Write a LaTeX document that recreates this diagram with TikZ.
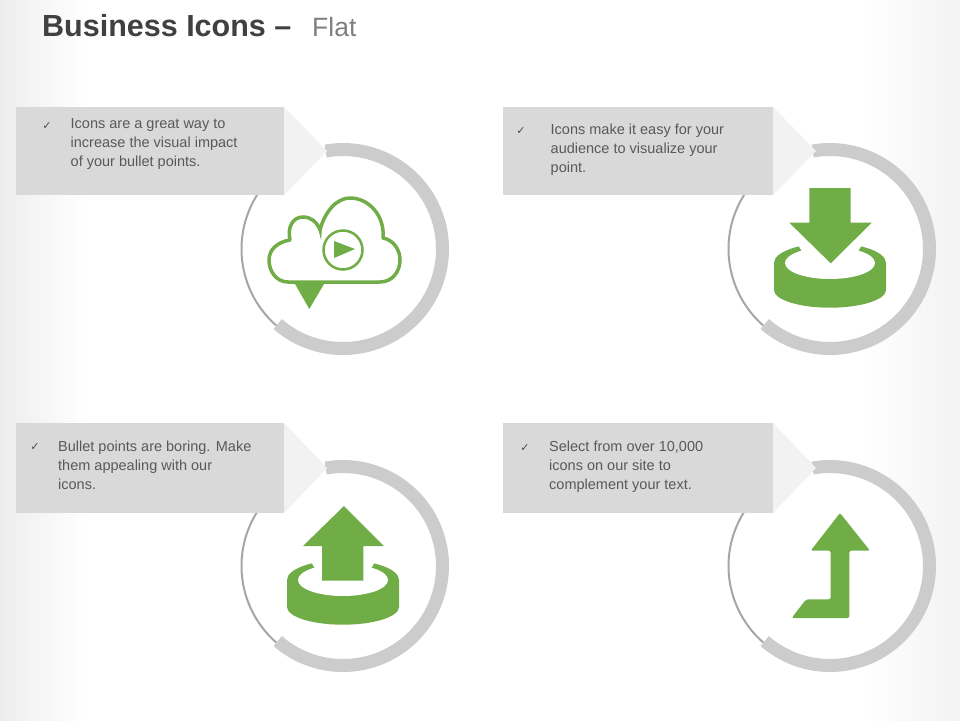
\documentclass[tikz,border=0pt]{standalone}
\usepackage{fontspec}
\setmainfont{Liberation Sans}
\newfontfamily\checkfont{DejaVu Sans}
\definecolor{iconGreen}{HTML}{70AD47}
\definecolor{ringGrey}{HTML}{CCCCCC}
\definecolor{thinGrey}{HTML}{A6A6A6}
\definecolor{boxGrey}{HTML}{D9D9D9}
\definecolor{tipGrey}{HTML}{F2F2F2}
\definecolor{textGrey}{HTML}{595959}
\tikzset{
    bodytext/.style={anchor=north west, inner sep=0pt, align=left, text=textGrey, font=\fontsize{14.5}{19}\selectfont},
    checkmark/.style={inner sep=0pt, text=black!70, font=\checkfont\fontsize{11}{11}\selectfont},
    icon/.style={fill=iconGreen, draw=none}
}
% ring under the two tray arrows
\newcommand{\trayring}{
    \fill[iconGreen] (-56,-14) arc[start angle=180, end angle=0, x radius=56, y radius=20] -- (56,-41) arc[start angle=0, end angle=-180, x radius=56, y radius=17.7] -- cycle;
    \fill[white] (0,-14) ellipse[x radius=45, y radius=16];
    \fill[white] (-35,9) -- (-27,-4) -- (27,-4) -- (35,9) -- cycle;
}
\begin{document}
\begin{tikzpicture}[x=1pt, y=1pt]
    \useasboundingbox (0,-720) rectangle (960,0);
    \fill[white] (0,-720) rectangle (960,0);
    \shade[left color=black!7, right color=white] (0,-720) rectangle (85,0);
    \shade[left color=white, right color=black!5] (860,-720) rectangle (960,0);

    \node[anchor=base west, inner sep=0pt, text=black!75, font=\fontsize{30.5}{30}\selectfont\bfseries] (title) at (42,-36) {Business Icons --};
    \node[anchor=base west, inner sep=0pt, text=black!50, font=\fontsize{26.5}{30}\selectfont] (subtitle) at (312,-36) {Flat};

    % circles
    \foreach \cx/\cy in {343/-249, 830/-249, 343/-566, 830/-566} {
        \begin{scope}[shift={(\cx,\cy)}]
            \fill[white] (0,0) circle (100);
            \draw[thinGrey, line width=2] (100:101.5) arc[start angle=100, end angle=229, radius=101.5];
            \draw[ringGrey, line width=13] (-131:99.5) arc[start angle=-131, end angle=100, radius=99.5];
        \end{scope}
    }

    % callouts
    \foreach \xa/\xb/\ya/\yb in {16/284/-107/-195, 503/773/-107/-195, 16/284/-423/-513, 503/773/-423/-513} {
        \fill[tipGrey] (\xb,\ya) -- ({\xb+43},{(\ya+\yb)/2}) -- (\xb,\yb) -- cycle;
        \fill[boxGrey] (\xa,\ya) rectangle (\xb,\yb);
    }

    \node[checkmark] (checkA) at (47,-126) {✓};
    \node[bodytext] (textA) at (70.5,-118) {Icons are a great way to\\increase the visual impact\\of your bullet points.};
    \node[checkmark] (checkB) at (521,-131) {✓};
    \node[bodytext] (textB) at (550.5,-124) {Icons make it easy for your\\audience to visualize your\\point.};
    \node[checkmark] (checkC) at (35,-447) {✓};
    \node[bodytext] (textC) at (58,-440.5) {Bullet points are boring. Make\\them appealing with our\\icons.};
    \node[checkmark] (checkD) at (525,-448) {✓};
    \node[bodytext] (textD) at (549,-441) {Select from over 10,000\\icons on our site to\\complement your text.};

    % cloud
    \begin{scope}[shift={(343,-249)}]
        \draw[iconGreen, line width=3.5, line join=round] (-55,-33) .. controls (-66,-33) and (-74,-23) .. (-74,-11) .. controls (-74,0) and (-65,7) .. (-53,9) .. controls (-56,22) and (-50,32) .. (-40,32) .. controls (-32,32) and (-26,27) .. (-23,19) .. controls (-18,38) and (-6,51) .. (7,51) .. controls (26,51) and (42,33) .. (40,11) .. controls (50,9) and (57,0) .. (57,-11) .. controls (57,-23) and (49,-33) .. (37,-33) -- cycle;
        \fill[iconGreen] (-25,21) -- (-21,21) -- (-22,9) -- cycle;
        \draw[iconGreen, line width=2.5] (0,-1) circle (19.5);
        \fill[iconGreen] (-9,8) -- (12,0) -- (-9,-9) -- cycle;
        \fill[iconGreen] (-48,-35) -- (-19,-35) -- (-33.7,-60) -- cycle;
    \end{scope}

    % tray with arrow down
    \begin{scope}[shift={(830,-249)}]
        \trayring
        \fill[icon] (-20.7,61) -- (20.7,61) -- (20.7,26.3) -- (41.7,26.3) -- (0.7,-14.3) -- (-40.7,26.3) -- (-20.7,26.3) -- cycle;
    \end{scope}

    % tray with arrow up
    \begin{scope}[shift={(343,-566)}]
        \trayring
        \fill[icon] (-21,-14.7) -- (20.3,-14.7) -- (20.3,20) -- (41,20) -- (1,60) -- (-40,20) -- (-21,20) -- cycle;
    \end{scope}

    % bent arrow
    \begin{scope}[shift={(830,-566)}]
        \fill[icon, rounded corners=2] (0.7,-33.3) -- (0.7,15.3) -- (-19.3,15.3) -- (10,53) -- (40,15.3) -- (19.3,15.3) -- (19.3,-52) -- (-38.3,-52) -- (-24,-33.3) -- cycle;
    \end{scope}
\end{tikzpicture}
\end{document}
